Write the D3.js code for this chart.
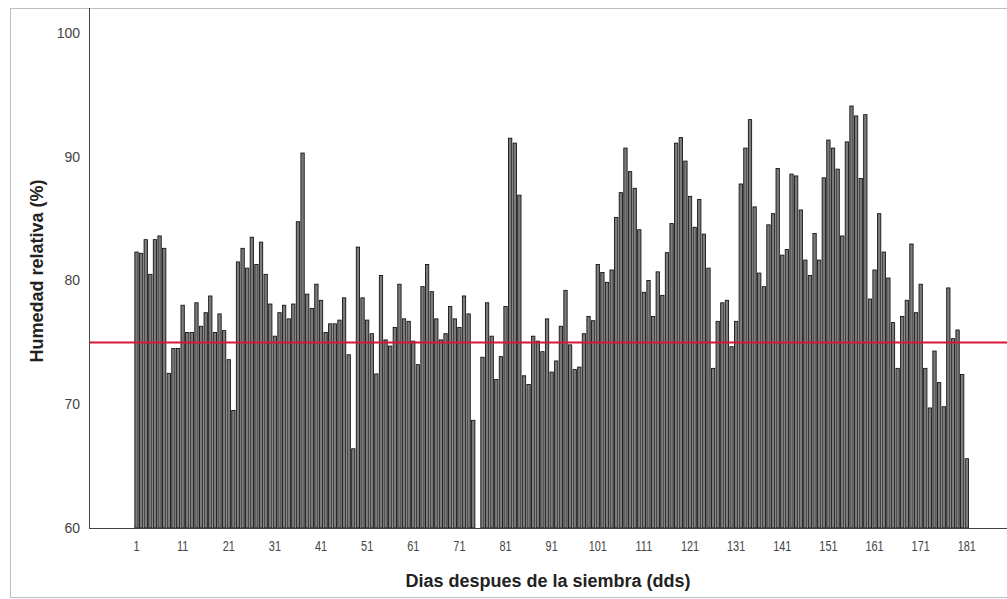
<!DOCTYPE html>
<html>
<head>
<meta charset="utf-8">
<script src="https://cdn.jsdelivr.net/npm/d3@7"></script>
<style>
  body { margin: 0; background: #fff; }
  svg { display: block; }
</style>
</head>
<body>
<svg id="chart" width="1007" height="599"></svg>
<script>
// Days after sowing (categories)
const days = d3.range(1, 182);

// Daily mean relative humidity (%), day 75 has no record
const humidity = [
  82.3, 82.2, 83.3, 80.5, 83.3, 83.6, 82.6, 72.5, 74.5, 74.5,
  78.0, 75.8, 75.8, 78.2, 76.3, 77.4, 78.75, 75.8, 77.3, 75.95,
  73.6, 69.5, 81.5, 82.6, 81.0, 83.5, 81.3, 83.1, 80.5, 78.1,
  75.5, 77.4, 78.0, 76.9, 78.1, 84.75, 90.3, 78.9, 77.75, 79.7,
  78.4, 75.8, 76.5, 76.5, 76.8, 78.6, 74.0, 66.4, 82.7, 78.6,
  76.8, 75.7, 72.45, 80.4, 75.2, 74.7, 76.2, 79.7, 76.9, 76.7,
  75.1, 73.2, 79.5, 81.3, 79.1, 76.9, 75.2, 75.7, 77.9, 76.9,
  76.2, 78.75, 77.3, 68.7, null, 73.8, 78.2, 75.5, 72.0, 73.85,
  77.9, 91.5, 91.1, 86.9, 72.3, 71.6, 75.5, 75.1, 74.25, 76.9,
  72.6, 73.5, 76.3, 79.2, 74.8, 72.8, 73.0, 75.7, 77.1, 76.75,
  81.3, 80.65, 79.85, 80.85, 85.1, 87.1, 90.7, 88.8, 87.45, 84.1,
  79.05, 80.0, 77.1, 80.7, 78.8, 82.25, 84.6, 91.1, 91.55, 89.65,
  86.8, 84.3, 86.55, 83.75, 81.0, 72.9, 76.7, 78.2, 78.4, 74.65,
  76.7, 87.8, 90.7, 93.0, 85.95, 80.6, 79.5, 84.5, 85.4, 89.05,
  82.05, 82.5, 88.6, 88.45, 85.7, 81.65, 80.4, 83.8, 81.65, 88.3,
  91.35, 90.7, 89.0, 83.6, 91.2, 94.1, 93.3, 88.25, 93.4, 78.5,
  80.85, 85.4, 82.3, 80.2, 76.6, 72.9, 77.1, 78.4, 82.95, 77.4,
  79.7, 72.9, 69.7, 74.3, 71.75, 69.8, 79.4, 75.3, 76.0, 72.4, 65.6
];

const xTickDays = [1, 11, 21, 31, 41, 51, 61, 71, 81, 91, 101, 111, 121, 131, 141, 151, 161, 171, 181];
const yTicks = [60, 70, 80, 90, 100];
const referenceLevel = 75;

const xTitle = "Dias despues de la siembra (dds)";
const yTitle = "Humedad relativa (%)";

const W = 1007, H = 599;
const plot = { left: 89, right: 1007, top: 8, bottom: 528 };
const font = "'Liberation Sans', Arial, Helvetica, sans-serif";

const svg = d3.select("#chart");

const x = d3.scaleBand()
  .domain(days)
  .range([134.2, 969.1])
  .paddingInner(0.28)
  .paddingOuter(0.14);

const y = d3.scaleLinear()
  .domain([60, 100])
  .range([plot.bottom, 33]);

// outer chart frame
svg.append("rect")
  .attr("x", 10.5).attr("y", 8.5)
  .attr("width", W + 20).attr("height", 589)
  .attr("fill", "none")
  .attr("stroke", "#bdbdbd")
  .attr("stroke-width", 1);

// bars
const records = days.map((d, i) => ({ day: d, value: humidity[i] }))
  .filter(r => r.value != null);

svg.append("g")
  .selectAll("rect")
  .data(records)
  .join("rect")
  .attr("x", r => x(r.day))
  .attr("y", r => y(r.value))
  .attr("width", x.bandwidth())
  .attr("height", r => y(60) - y(r.value))
  .attr("fill", "#7b7b7b")
  .attr("stroke", "#0d0d0d")
  .attr("stroke-width", 0.85);

// axis lines
svg.append("line")
  .attr("x1", plot.left + 0.5).attr("x2", plot.left + 0.5)
  .attr("y1", plot.top).attr("y2", plot.bottom + 0.5)
  .attr("stroke", "#444").attr("stroke-width", 1);
svg.append("line")
  .attr("x1", plot.left).attr("x2", plot.right)
  .attr("y1", plot.bottom + 0.5).attr("y2", plot.bottom + 0.5)
  .attr("stroke", "#444").attr("stroke-width", 1);

// reference line
svg.append("line")
  .attr("x1", plot.left + 1).attr("x2", plot.right)
  .attr("y1", y(referenceLevel)).attr("y2", y(referenceLevel))
  .attr("stroke", "#d6163e")
  .attr("stroke-width", 2);

// y axis labels
const yAxis = d3.axisLeft(y)
  .tickValues(yTicks)
  .tickSize(0)
  .tickPadding(9)
  .tickFormat(d3.format("d"));
const gy = svg.append("g")
  .attr("transform", `translate(${plot.left},0)`)
  .call(yAxis);
gy.select(".domain").remove();
gy.selectAll("text")
  .attr("font-family", font)
  .attr("font-size", 14)
  .attr("fill", "#444");

// x axis labels (horizontally condensed)
const xAxis = d3.axisBottom(x)
  .tickValues(xTickDays)
  .tickSize(0)
  .tickPadding(13);
const gx = svg.append("g")
  .attr("transform", `translate(0,${plot.bottom})`)
  .call(xAxis);
gx.select(".domain").remove();
gx.selectAll("text")
  .attr("font-family", font)
  .attr("font-size", 14)
  .attr("fill", "#444")
  .attr("transform", "scale(0.78,1)");

// axis titles
svg.append("text")
  .attr("x", 548).attr("y", 587)
  .attr("text-anchor", "middle")
  .attr("font-family", font)
  .attr("font-weight", "bold")
  .attr("font-size", 18)
  .attr("fill", "#222")
  .text(xTitle);

svg.append("text")
  .attr("transform", `translate(43,271) rotate(-90)`)
  .attr("text-anchor", "middle")
  .attr("font-family", font)
  .attr("font-weight", "bold")
  .attr("font-size", 18)
  .attr("fill", "#222")
  .text(yTitle);
</script>
</body>
</html>
